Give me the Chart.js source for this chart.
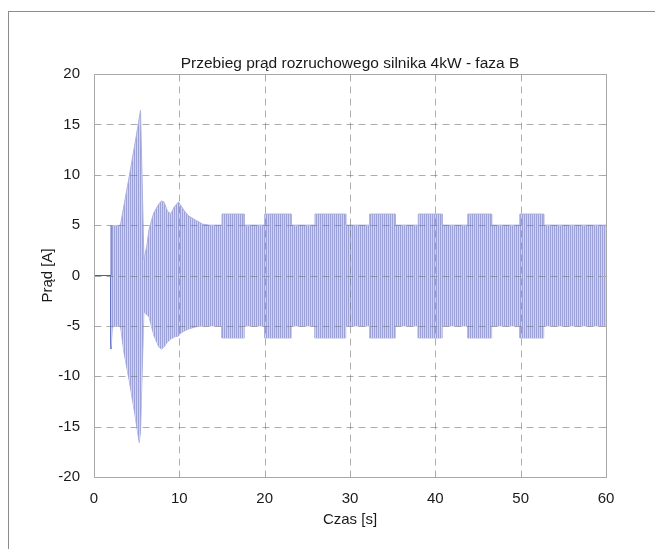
<!DOCTYPE html>
<html>
<head>
<meta charset="utf-8">
<script src="https://cdn.jsdelivr.net/npm/chart.js@4.4.0/dist/chart.umd.min.js"></script>
<style>
  html, body { margin: 0; padding: 0; background: #fff; }
  canvas { position: absolute; left: 0; top: 0; }
  #ramka {
    position: absolute; left: 8px; top: 11px; right: 0; bottom: 0;
    border-left: 1px solid #8c8c8c; border-top: 1px solid #8c8c8c;
    pointer-events: none;
  }
</style>
</head>
<body>
<canvas id="wykres" width="655" height="549"></canvas>
<div id="ramka"></div>
<script>
// obwiednia przebiegu prądu
const czas = [
  0, 2.0, 2.0, 2.15, 3.1, 3.5, 4.1, 4.7, 5.3, 5.45, 5.6, 5.85, 6.2, 6.45, 7.0,
  7.6, 7.9, 8.2, 8.6, 9.0, 9.4, 9.9, 10.2, 10.6, 11.1, 11.9, 12.7, 13.5,
  15.0, 15.0, 17.6, 17.6, 20.0, 20.0, 23.1, 23.1, 25.9, 25.9, 29.5, 29.5,
  32.3, 32.3, 35.3, 35.3, 38.0, 38.0, 40.8, 40.8, 43.8, 43.8, 46.6, 46.6,
  49.9, 49.9, 52.7, 52.7, 60.0
];
const gorna = [
  0, 0, 5.0, 4.9, 5.0, 6.9, 9.7, 12.6, 15.6, 16.4, 11.0, 1.6, 3.0, 4.6, 6.2,
  7.1, 7.4, 7.3, 6.4, 6.1, 6.8, 7.3, 6.9, 6.4, 5.9, 5.5, 5.1, 5.0,
  5.0, 6.1, 6.1, 5.0, 5.0, 6.1, 6.1, 5.0, 5.0, 6.1, 6.1, 5.0,
  5.0, 6.1, 6.1, 5.0, 5.0, 6.1, 6.1, 5.0, 5.0, 6.1, 6.1, 5.0,
  5.0, 6.1, 6.1, 5.0, 5.0
];
const dolna = [
  0, 0, -7.3, -5.1, -5.0, -7.6, -10.3, -13.3, -16.6, -15.5, -11.0, -3.6, -3.9, -4.1, -5.9,
  -7.1, -7.3, -7.1, -6.6, -6.3, -6.1, -6.0, -5.7, -5.5, -5.3, -5.1, -5.0, -5.0,
  -5.0, -6.2, -6.2, -5.0, -5.0, -6.2, -6.2, -5.0, -5.0, -6.2, -6.2, -5.0,
  -5.0, -6.2, -6.2, -5.0, -5.0, -6.2, -6.2, -5.0, -5.0, -6.2, -6.2, -5.0,
  -5.0, -6.2, -6.2, -5.0, -5.0
];
const tytul = "Przebieg prąd rozruchowego silnika 4kW - faza B";

// wzór pionowych pasków (gęsty przebieg sinusoidy)
function paski() {
  const c = document.createElement("canvas");
  c.width = 2; c.height = 1;
  const g = c.getContext("2d");
  g.fillStyle = "#9ca2d7"; g.fillRect(0, 0, 1, 1);
  g.fillStyle = "#d0d3ee"; g.fillRect(1, 0, 1, 1);
  return g.createPattern(c, "repeat");
}

// siatka przerywana, ramka osi i znaczniki do środka (styl MATLAB)
const siatka = {
  id: "siatka",
  afterDatasetsDraw(chart) {
    const { ctx, chartArea: a, scales: { x, y } } = chart;
    const L = Math.round(a.left) + 0.5, R = Math.round(a.right) + 0.5;
    const T = Math.round(a.top) + 0.5, B = Math.round(a.bottom) + 0.5;
    ctx.save();
    ctx.lineWidth = 1;
    ctx.strokeStyle = "rgba(120,120,120,0.6)";
    ctx.setLineDash([7, 5]);
    x.ticks.forEach((t) => {
      if (t.value <= x.min || t.value >= x.max) return;
      const px = Math.round(x.getPixelForValue(t.value)) + 0.5;
      ctx.beginPath(); ctx.moveTo(px, B); ctx.lineTo(px, T); ctx.stroke();
    });
    y.ticks.forEach((t) => {
      if (t.value <= y.min || t.value >= y.max) return;
      const py = Math.round(y.getPixelForValue(t.value)) + 0.5;
      ctx.beginPath(); ctx.moveTo(L, py); ctx.lineTo(R, py); ctx.stroke();
    });
    ctx.setLineDash([]);
    ctx.strokeStyle = "#a8a8a8";
    ctx.strokeRect(L, T, R - L, B - T);
    const d = 5;
    x.ticks.forEach((t) => {
      const px = Math.round(x.getPixelForValue(t.value)) + 0.5;
      ctx.beginPath();
      ctx.moveTo(px, B); ctx.lineTo(px, B - d);
      ctx.moveTo(px, T); ctx.lineTo(px, T + d);
      ctx.stroke();
    });
    y.ticks.forEach((t) => {
      const py = Math.round(y.getPixelForValue(t.value)) + 0.5;
      ctx.beginPath();
      ctx.moveTo(L, py); ctx.lineTo(L + d, py);
      ctx.moveTo(R, py); ctx.lineTo(R - d, py);
      ctx.stroke();
    });
    ctx.restore();
  }
};

const rodzina = "'Liberation Sans', Arial, sans-serif";
const czcionka = { family: rodzina, size: 15 };
const tekst = "#1a1a1a";
const linia0 = (c) => (c.p1.parsed.x <= 2 ? "#4858c0" : undefined);

const ctx = document.getElementById("wykres").getContext("2d");
new Chart(ctx, {
  type: "line",
  data: {
    datasets: [
      {
        label: "górna",
        data: czas.map((t, i) => ({ x: t, y: gorna[i] })),
        fill: "+1",
        backgroundColor: paski(),
        borderColor: "#adb2de",
        borderWidth: 1,
        pointRadius: 0,
        tension: 0,
        segment: { borderColor: linia0 }
      },
      {
        label: "dolna",
        data: czas.map((t, i) => ({ x: t, y: dolna[i] })),
        fill: false,
        borderColor: "#adb2de",
        borderWidth: 1,
        pointRadius: 0,
        tension: 0,
        segment: { borderColor: linia0 }
      }
    ]
  },
  options: {
    responsive: false,
    animation: false,
    devicePixelRatio: 1,
    layout: { padding: { left: 0, right: 49, top: 0, bottom: 0 } },
    plugins: { legend: { display: false }, tooltip: { enabled: false } },
    scales: {
      x: {
        type: "linear", position: "bottom", min: 0, max: 60,
        grid: { display: false }, border: { display: false },
        ticks: { stepSize: 10, padding: 5, color: tekst, font: czcionka, maxRotation: 0 },
        title: { display: true, text: "Czas [s]", color: tekst, font: czcionka, padding: { top: 0, bottom: 20 } },
        afterFit: (s) => { s.height = 72; }
      },
      gora: {
        type: "linear", position: "top", min: 0, max: 60,
        grid: { display: false }, border: { display: false },
        ticks: { display: false },
        title: { display: true, text: tytul, color: tekst, font: { family: rodzina, size: 15.5 }, padding: { top: 54.5, bottom: 0 } },
        afterFit: (s) => { s.height = 74; }
      },
      y: {
        type: "linear", min: -20, max: 20,
        grid: { display: false }, border: { display: false },
        ticks: { stepSize: 5, padding: 6, color: tekst, font: czcionka },
        title: { display: true, text: "Prąd [A]", color: tekst, font: czcionka, padding: { top: 39, bottom: 0 } },
        afterFit: (s) => { s.width = 94; }
      }
    }
  },
  plugins: [siatka]
});
</script>
</body>
</html>
